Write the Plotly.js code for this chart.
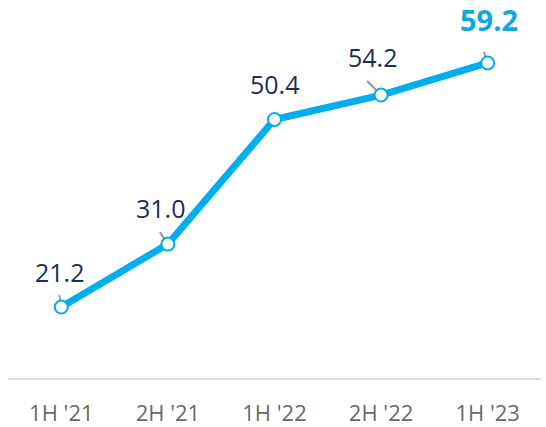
<!DOCTYPE html>
<html>
<head>
<meta charset="utf-8">
<script src="https://cdn.plot.ly/plotly-3.0.1.min.js"></script>
<style>html,body{margin:0;padding:0;background:#fff;}#chart{width:546px;height:427px;}</style>
</head>
<body>
<div id="chart"></div>
<script>
// Data
const categories = ["1H '21", "2H '21", "1H '22", "2H '22", "1H '23"];
const values = [21.2, 31.0, 50.4, 54.2, 59.2];
const valueLabels = ["21.2", "31.0", "50.4", "54.2", "59.2"];

// Label placement (pixel offsets from each point)
const labelDX = [-2, -7, 0, -9, 1];
const labelDY = [35, 36, 35, 38, 43];
// Leader line ends (pixel offsets from each point); null = none
const leaderDX = [-2, -8, null, -14, -4];
const leaderDY = [12, 12, null, 14, 11];

const navy = '#1c2c5b';
const cyan = '#00aeef';
const last = values.length - 1;

const trace = {
  x: categories,
  y: values,
  type: 'scatter',
  mode: 'lines+markers',
  line: {color: cyan, width: 7},
  marker: {size: 13, color: '#ffffff', line: {color: cyan, width: 2}},
  hoverinfo: 'skip'
};

const annotations = categories.map((c, i) => ({
  x: c, y: values[i], xref: 'x', yref: 'y',
  text: i === last ? '<b>' + valueLabels[i] + '</b>' : valueLabels[i],
  showarrow: false,
  xshift: labelDX[i], yshift: labelDY[i],
  font: i === last
    ? {family: 'Open Sans, sans-serif', size: 29, color: '#0ca8e6'}
    : {family: 'Open Sans, sans-serif', size: 25, color: navy}
}));

const shapes = [];
categories.forEach((c, i) => {
  if (leaderDX[i] === null) return;
  shapes.push({
    type: 'line', layer: 'below',
    xref: 'x', yref: 'y',
    xsizemode: 'pixel', ysizemode: 'pixel',
    xanchor: i, yanchor: values[i],
    x0: 0, y0: 0, x1: leaderDX[i], y1: leaderDY[i],
    line: {color: '#999999', width: 2}
  });
});

const layout = {
  width: 546, height: 427,
  margin: {l: 8, r: 5, t: 0, b: 49},
  paper_bgcolor: '#ffffff', plot_bgcolor: '#ffffff',
  showlegend: false,
  xaxis: {
    type: 'category',
    range: [-0.5, 4.5],
    showgrid: false, zeroline: false,
    showline: true, linecolor: '#dddddd', linewidth: 2,
    ticks: '', ticklabelstandoff: 15,
    tickfont: {family: 'Open Sans, sans-serif', size: 22, color: '#6a6a6a'},
    fixedrange: true
  },
  yaxis: {
    range: [10.15, 69.0],
    visible: false, showgrid: false, zeroline: false,
    fixedrange: true
  },
  annotations: annotations,
  shapes: shapes
};

Plotly.newPlot('chart', [trace], layout, {displayModeBar: false, staticPlot: true});
</script>
</body>
</html>
